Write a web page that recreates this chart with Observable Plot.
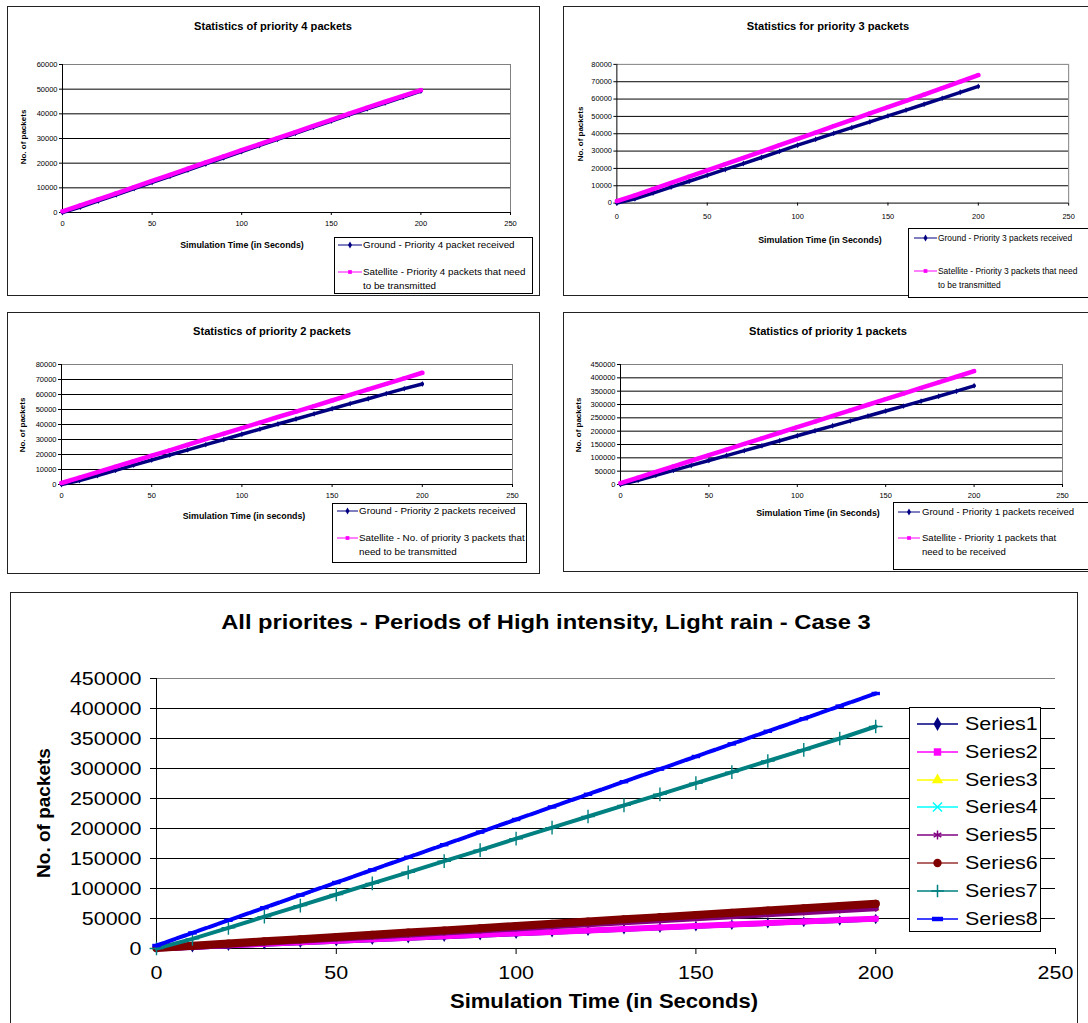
<!DOCTYPE html>
<html><head><meta charset="utf-8">
<script src="https://cdn.jsdelivr.net/npm/d3@7"></script>
<script src="https://cdn.jsdelivr.net/npm/@observablehq/plot@0.6"></script>
<style>
body{margin:0;background:#fff;font-family:Arial,"Liberation Sans",sans-serif;color:#000;}
#page{position:relative;width:1088px;height:1023px;overflow:hidden;background:#fff;}
.panel{position:absolute;border:1px solid #222;box-sizing:border-box;}
.t{position:absolute;white-space:nowrap;}
.b{font-weight:bold;}
.yl{position:absolute;white-space:nowrap;font-weight:bold;transform:translate(-50%,-50%) rotate(-90deg);}
.svgwrap{position:absolute;}
.legend{position:absolute;border:1px solid #000;background:#fff;box-sizing:border-box;}
.lt{position:absolute;white-space:nowrap;transform-origin:0 50%;}
.sw{position:absolute;overflow:visible;}
</style></head>
<body><div id="page"></div>
<script>
// ---------- data ----------
const TIME = [0,10,20,30,40,50,60,70,80,90,100,110,120,130,140,150,160,170,180,190,200];
const ground4 = [0,2200,4700,7200,9700,12200,14700,17200,19700,22200,24700,27200,29700,32100,34600,37100,39600,42000,44400,46800,49200];
const sat4    = [500,2900,5300,7800,10300,12800,15300,17800,20300,22800,25300,27700,30200,32600,35100,37600,40100,42500,44900,47300,49600];
const ground3 = [0,2500,5800,9200,12600,16000,19400,22800,26300,29800,33400,36800,40200,43500,46900,50300,53600,57000,60400,63900,67300];
const sat3    = [1200,4500,8100,11700,15300,18900,22500,26100,29700,33400,37000,40700,44400,48000,51700,55300,59000,62600,66300,70000,73800];
const ground2 = [0,2600,6000,9400,12900,16300,19700,23100,26600,30000,33500,36900,40300,43700,47100,50500,53900,57200,60600,63900,67000];
const sat2    = [1000,4600,8300,11900,15500,19200,22800,26500,30200,33900,37600,41300,45000,48600,52300,56000,59700,63400,67100,70800,74500];
const ground1 = [0,16000,34500,53000,71500,90000,108500,127000,145500,164000,183000,201500,220000,238500,257000,275500,294000,312500,331000,350000,370000];
const sat1    = [5000,26000,47000,68000,89000,110000,131000,152000,173000,194000,215000,236000,257000,278000,299000,320000,341000,362000,383000,404000,425000];

const X_TICKS = [0,50,100,150,200,250];
const Y_TICKS_60K = [0,10000,20000,30000,40000,50000,60000];
const Y_TICKS_80K = [0,10000,20000,30000,40000,50000,60000,70000,80000];
const Y_TICKS_450K = [0,50000,100000,150000,200000,250000,300000,350000,400000,450000];

const SERIES_NAMES = ["Series1","Series2","Series3","Series4","Series5","Series6","Series7","Series8"];

// ---------- helpers ----------
const page = document.getElementById("page");
const FONT = 'Arial, "Liberation Sans", sans-serif';
const dashSymbol = {draw(ctx, size){ const w = Math.sqrt(size)*1.5, h = w*0.4; ctx.moveTo(-w/2,-h/2); ctx.lineTo(w/2,-h/2); ctx.lineTo(w/2,h/2); ctx.lineTo(-w/2,h/2); ctx.closePath(); }};
const STROKE_SYMBOLS = new Set(["times","asterisk","plus"]);
const d3Sym = {diamond:d3.symbolDiamond, square:d3.symbolSquare, triangle:d3.symbolTriangle, times:d3.symbolTimes, asterisk:d3.symbolAsterisk, circle:d3.symbolCircle, plus:d3.symbolPlus, dash:dashSymbol};

function el(tag, cls, style, text){
  const e = document.createElement(tag);
  if (cls) e.className = cls;
  Object.assign(e.style, style||{});
  if (text!=null) e.textContent = text;
  page.appendChild(e);
  return e;
}
// centered, horizontally stretched text
function ctext(x, y, fs, k, bold, text){
  return el("div","t"+(bold?" b":""),{left:x+"px", top:y+"px", fontSize:fs+"px", transform:`translate(-50%,-50%) scaleX(${k})`}, text);
}

function chart(cfg){
  const mL=70,mR=20,mT=12,mB=30;
  const W = cfg.x1-cfg.x0+mL+mR, H = cfg.yBot-cfg.yTop+mT+mB;
  const marks = [];
  marks.push(Plot.ruleY(cfg.yTicks.filter(v=>v>0 && v<cfg.yMax), {stroke:"#000", strokeWidth:1}));
  marks.push(Plot.ruleY([cfg.yMax], {stroke:"#808080", strokeWidth:1}));
  if (cfg.frameRight) marks.push(Plot.ruleX([250], {stroke:"#808080", strokeWidth:1}));
  marks.push(Plot.ruleX([0], {stroke:"#000", strokeWidth:1}));
  marks.push(Plot.ruleY([0], {stroke:"#000", strokeWidth:1}));
  for (const s of cfg.series){
    const data = TIME.map((t,i)=>({t, v:s.values[i]}));
    const lo = {x:"t", y:"v", stroke:s.line||s.color, strokeWidth:s.band};
    if (s.dash) lo.strokeDasharray = s.dash;
    marks.push(Plot.line(data, lo));
    const sym = s.symbol==="dash" ? dashSymbol : s.symbol;
    const opts = {x:"t", y:"v", symbol:sym, r:s.r};
    if (STROKE_SYMBOLS.has(s.symbol)) { opts.stroke = s.color; opts.strokeWidth = 1.4; opts.fill = "none"; }
    else { opts.fill = s.color; opts.stroke = "none"; }
    marks.push(Plot.dot(data, opts));
  }
  const svg = Plot.plot({
    width: W, height: H,
    marginLeft: mL, marginRight: mR, marginTop: mT, marginBottom: mB,
    style: {fontFamily: FONT, fontSize: cfg.fs+"px", background:"transparent", color:"#000", overflow:"visible"},
    x: {domain:[0,250], ticks:X_TICKS, tickFormat:d=>String(d), label:null, tickSize:cfg.tick, tickPadding:cfg.xpad},
    y: {domain:[0,cfg.yMax], ticks:cfg.yTicks, tickFormat:d=>String(d), label:null, tickSize:cfg.tick, tickPadding:cfg.ypad},
    marks
  });
  if (cfg.stretch && cfg.stretch !== 1) {
    d3.select(svg).selectAll('g[aria-label$="tick label"] text').each(function(){
      const tr = this.getAttribute("transform") || "";
      this.setAttribute("transform", tr + ` scale(${cfg.stretch},1)`);
    });
  }
  const wrap = el("div","svgwrap",{left:(cfg.x0-mL)+"px", top:(cfg.yTop-mT)+"px"});
  wrap.appendChild(svg);
}

function swatch(x0, x1, y, color, symbol, size, lw, symColor){
  const w = x1-x0, h = 16;
  const ns = "http://www.w3.org/2000/svg";
  const svg = document.createElementNS(ns,"svg");
  svg.setAttribute("width", w); svg.setAttribute("height", h);
  svg.setAttribute("class","sw");
  svg.style.left = x0+"px"; svg.style.top = (y-h/2)+"px";
  const line = document.createElementNS(ns,"line");
  line.setAttribute("x1",0); line.setAttribute("x2",w); line.setAttribute("y1",h/2); line.setAttribute("y2",h/2);
  line.setAttribute("stroke",color); line.setAttribute("stroke-width",lw);
  svg.appendChild(line);
  const p = document.createElementNS(ns,"path");
  p.setAttribute("d", d3.symbol(d3Sym[symbol], size)());
  p.setAttribute("transform",`translate(${w/2},${h/2})`);
  const sc = symColor || color;
  if (STROKE_SYMBOLS.has(symbol)) { p.setAttribute("stroke",sc); p.setAttribute("fill","none"); p.setAttribute("stroke-width",1.5); }
  else p.setAttribute("fill",sc);
  svg.appendChild(p);
  page.appendChild(svg);
}

function legend(box, entries, sx0, sx1, tx, fs, lh, symSize, lw, k){
  el("div","legend",{left:box.l+"px", top:box.t+"px", width:box.w+"px", height:box.h+"px"});
  for (const e of entries){
    swatch(sx0, sx1, e.y, e.color, e.symbol, symSize, lw);
    e.text.forEach((line,i)=>{
      el("div","lt",{left:tx+"px", top:(e.y+i*lh)+"px", fontSize:fs+"px", transform:`translateY(-50%) scaleX(${k})`}, line);
    });
  }
}

// ---------- panel borders ----------
el("div","panel",{left:"7px", top:"6px", width:"533px", height:"290px"});
el("div","panel",{left:"563px", top:"6px", width:"540px", height:"290px"});
el("div","panel",{left:"7px", top:"312px", width:"533px", height:"262px"});
el("div","panel",{left:"563px", top:"312px", width:"540px", height:"260px"});
el("div","panel",{left:"10px", top:"592px", width:"1068px", height:"450px"});

const NAVY="#000080", MAG="#FF00FF";
const smallSeries = (g, s) => [
  {values:g, color:NAVY, symbol:"diamond", band:3.5, r:1.8},
  {values:s, color:MAG, symbol:"square", band:4.5, r:2.1}
];

// ---------- small charts ----------
chart({x0:62, x1:510, yTop:64, yBot:212, yMax:60000, yTicks:Y_TICKS_60K, fs:7.5, tick:3, xpad:5, ypad:2, frameRight:true, series:smallSeries(ground4, sat4)});
chart({x0:617, x1:1073, yTop:64, yBot:204, yMax:80000, yTicks:Y_TICKS_80K, fs:7.5, tick:3, xpad:8, ypad:2, frameRight:true, series:smallSeries(ground3, sat3)});
chart({x0:61, x1:512, yTop:364, yBot:484, yMax:80000, yTicks:Y_TICKS_80K, fs:7.5, tick:3, xpad:5, ypad:2, frameRight:true, series:smallSeries(ground2, sat2)});
chart({x0:620, x1:1062, yTop:364, yBot:484, yMax:450000, yTicks:Y_TICKS_450K, fs:7.5, tick:3, xpad:5, ypad:2, frameRight:true, series:smallSeries(ground1, sat1)});

// ---------- big chart ----------
chart({x0:156, x1:1055, yTop:678, yBot:948, yMax:450000, yTicks:Y_TICKS_450K, fs:19, tick:6, xpad:11, ypad:9, frameRight:false, stretch:1.13,
  series:[
    {values:ground4, color:"#000080", symbol:"diamond", band:5, r:3.2},
    {values:sat4, color:"#FF00FF", symbol:"square", band:6, r:3.2},
    {values:ground3, color:"#FFFF00", symbol:"triangle", band:3, r:3},
    {values:sat3, color:"#00FFFF", symbol:"times", band:3, r:3},
    {values:ground2, color:"#800080", symbol:"asterisk", band:6, r:3.2},
    {values:sat2, color:"#800000", symbol:"circle", band:8, r:4},
    {values:ground1, color:"#008080", symbol:"plus", band:4, r:4.5},
    {values:sat1, color:"#0000FF", symbol:"dash", band:4, r:3.2, dash:"9,2"}
  ]});

// ---------- titles & axis labels ----------
ctext(273, 26, 10, 1.11, true, "Statistics of priority 4 packets");
ctext(828, 26, 10, 1.11, true, "Statistics for priority 3 packets");
ctext(272, 331, 10, 1.11, true, "Statistics of priority 2 packets");
ctext(828, 331, 10, 1.11, true, "Statistics of priority 1 packets");
ctext(546, 622, 21, 1.13, true, "All priorites - Periods of High intensity, Light rain - Case 3");

ctext(242, 245, 8.5, 1.04, true, "Simulation Time (in Seconds)");
ctext(820, 240, 8.5, 1.04, true, "Simulation Time (in Seconds)");
ctext(244, 516, 8.5, 1.04, true, "Simulation Time (in seconds)");
ctext(818, 513, 8.5, 1.04, true, "Simulation Time (in Seconds)");
ctext(604, 1001, 19.5, 1.13, true, "Simulation Time (in Seconds)");

el("div","yl",{left:"23px", top:"137px", fontSize:"8px"}, "No. of packets");
el("div","yl",{left:"580px", top:"134px", fontSize:"8px"}, "No. of packets");
el("div","yl",{left:"22px", top:"425px", fontSize:"8px"}, "No. of packets");
el("div","yl",{left:"578px", top:"425px", fontSize:"8px"}, "No. of packets");
el("div","yl",{left:"44px", top:"813px", fontSize:"19px"}, "No. of packets");

// ---------- legends ----------
const lf = 9, llh = 13.5, lk = 1.09;
legend({l:334,t:237,w:199,h:57},[
  {y:245, color:NAVY, symbol:"diamond", text:["Ground - Priority 4 packet received"]},
  {y:272, color:MAG, symbol:"square", text:["Satellite - Priority 4 packets that need","to be transmitted"]}
], 338, 362, 363, lf, llh, 14, 1, lk);
legend({l:908,t:228,w:190,h:70},[
  {y:238, color:NAVY, symbol:"diamond", text:["Ground - Priority 3 packets received"]},
  {y:271, color:MAG, symbol:"square", text:["Satellite - Priority 3 packets that need","to be transmitted"]}
], 914, 937, 938, 8.5, llh, 14, 1, 0.99);
legend({l:332,t:503,w:195,h:60},[
  {y:511, color:NAVY, symbol:"diamond", text:["Ground - Priority 2 packets received"]},
  {y:538, color:MAG, symbol:"square", text:["Satellite - No. of priority 3 packets that","need to be transmitted"]}
], 337, 358, 359, lf, llh, 14, 1, lk);
legend({l:893,t:502,w:200,h:68},[
  {y:512, color:NAVY, symbol:"diamond", text:["Ground - Priority 1 packets received"]},
  {y:538, color:MAG, symbol:"square", text:["Satellite - Priority 1 packets that","need to be received"]}
], 898, 920, 922, lf, llh, 14, 1, 1.06);

const bigColors = ["#000080","#FF00FF","#FFFF00","#00FFFF","#800080","#993333","#008080","#0000FF"];
const bigSyms = ["diamond","square","triangle","times","asterisk","circle","plus","dash"];
const bigSymColors = ["#000080","#FF00FF","#FFFF00","#00FFFF","#800080","#800000","#008080","#0000FF"];
el("div","legend",{left:"909px", top:"707px", width:"132px", height:"225px"});
SERIES_NAMES.forEach((name,i)=>{
  const y = 724 + i*27.8;
  swatch(917, 958, y, bigColors[i], bigSyms[i], 55, 1.3, bigSymColors[i]);
  el("div","lt",{left:"965px", top:y+"px", fontSize:"19px", transform:"translateY(-50%) scaleX(1.13)"}, name);
});
</script>
</body></html>
